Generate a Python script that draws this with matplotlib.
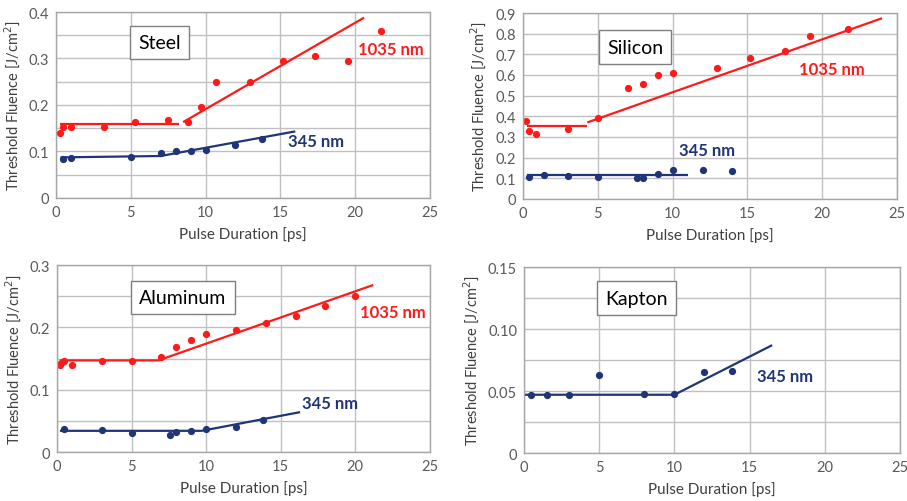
import matplotlib.pyplot as plt
import numpy as np

plt.rcParams['font.family'] = ['Lato', 'DejaVu Sans']

RED = '#ff1a1a'
BLUE = '#1f3578'
GRID = '#c0c0c0'
TICK = '#595959'

# --- measured thresholds: pulse duration [ps], fluence [J/cm^2] ---
steel_ir_t = [0.3, 0.5, 1.0, 3.2, 5.3, 7.5, 8.8, 9.7, 10.7, 13.0, 15.2, 17.3, 19.5, 21.7]
steel_ir_f = [0.140, 0.152, 0.152, 0.152, 0.163, 0.168, 0.163, 0.195, 0.250, 0.250, 0.295, 0.305, 0.295, 0.360]
steel_uv_t = [0.5, 1.0, 5.0, 7.0, 8.0, 9.0, 10.0, 12.0, 13.8]
steel_uv_f = [0.084, 0.086, 0.088, 0.096, 0.100, 0.100, 0.102, 0.113, 0.127]

si_ir_t = [0.2, 0.4, 0.9, 3.0, 5.0, 7.0, 8.0, 9.0, 10.0, 13.0, 15.2, 17.5, 19.2, 21.7]
si_ir_f = [0.375, 0.330, 0.315, 0.340, 0.390, 0.535, 0.555, 0.600, 0.610, 0.635, 0.680, 0.715, 0.790, 0.825]
si_uv_t = [0.4, 1.4, 3.0, 5.0, 7.6, 8.0, 9.0, 10.0, 12.0, 14.0]
si_uv_f = [0.105, 0.115, 0.110, 0.105, 0.100, 0.100, 0.120, 0.140, 0.140, 0.135]

al_ir_t = [0.2, 0.3, 0.5, 1.0, 3.0, 5.0, 7.0, 8.0, 9.0, 10.0, 12.0, 14.0, 16.0, 18.0, 20.0]
al_ir_f = [0.140, 0.143, 0.146, 0.140, 0.146, 0.146, 0.152, 0.168, 0.179, 0.190, 0.195, 0.207, 0.218, 0.235, 0.250]
al_uv_t = [0.5, 3.0, 5.0, 7.6, 8.0, 9.0, 10.0, 12.0, 13.8]
al_uv_f = [0.037, 0.036, 0.030, 0.028, 0.032, 0.033, 0.037, 0.040, 0.051]

kap_uv_t = [0.5, 1.5, 3.0, 5.0, 8.0, 10.0, 12.0, 13.8]
kap_uv_f = [0.047, 0.047, 0.047, 0.063, 0.048, 0.048, 0.065, 0.066]

# --- trend lines (segments) ---
steel_ir_fit = [([0.3, 8.2], [0.158, 0.158]), ([8.5, 20.6], [0.163, 0.388])]
steel_uv_fit = [([0.3, 7.0, 16.0], [0.087, 0.090, 0.143])]
si_ir_fit = [([0.3, 4.3], [0.355, 0.355]), ([4.3, 24.0], [0.370, 0.875])]
si_uv_fit = [([0.3, 11.0], [0.115, 0.115])]
al_ir_fit = [([0.2, 6.8, 21.2], [0.147, 0.147, 0.268])]
al_uv_fit = [([0.2, 9.7, 16.3], [0.034, 0.034, 0.064])]
kap_uv_fit = [([0.0, 10.0, 16.5], [0.047, 0.047, 0.087])]


def panel(ax, ymax, ystep, gstep, fmt, name, box_xy, series, notes):
    ax.set_xlim(0, 25)
    ax.set_ylim(0, ymax)
    ax.set_xticks(np.arange(0, 26, 5))
    ax.set_yticks(np.arange(0, ymax + 1e-9, ystep))
    ax.set_yticks(np.arange(0, ymax + 1e-9, gstep), minor=True)
    ax.set_yticklabels(['0'] + [fmt % v for v in np.arange(ystep, ymax + 1e-9, ystep)])
    ax.grid(True, which='both', color=GRID, lw=1.0)
    ax.set_axisbelow(True)
    ax.tick_params(which='both', length=0, labelsize=10.5, colors=TICK, pad=5)
    for s in ax.spines.values():
        s.set_color('#a6a6a6')
        s.set_linewidth(1.0)
    ax.set_xlabel('Pulse Duration [ps]', fontsize=11, color='#404040', labelpad=5)
    ax.set_ylabel('Threshold Fluence [J/cm$^2$]', fontsize=10.5, color='#404040', labelpad=5)

    for t, f, fit, col in series:
        for xs, ys in fit:
            ax.plot(xs, ys, color=col, lw=1.6, solid_capstyle='butt')
        ax.plot(t, f, 'o', color=col, ms=4.2, mec=col)

    ax.text(box_xy[0], box_xy[1], name, fontsize=14, ha='center', va='center',
            color='black',
            bbox=dict(boxstyle='square,pad=0.42', fc='white', ec='#7f7f7f', lw=1.0))
    for x, y, txt, col in notes:
        ax.text(x, y, txt, fontsize=12, fontweight='bold', color=col,
                ha='left', va='center')


fig = plt.figure(figsize=(9.07, 5.02), dpi=100)
ax1 = fig.add_axes([0.0617, 0.604, 0.4123, 0.370])
ax2 = fig.add_axes([0.5766, 0.602, 0.4124, 0.370])
ax3 = fig.add_axes([0.0628, 0.0976, 0.4112, 0.3724])
ax4 = fig.add_axes([0.5777, 0.0956, 0.4146, 0.3704])

panel(ax1, 0.4, 0.1, 0.05, '%.1f', 'Steel', (6.9, 0.335),
      [(steel_ir_t, steel_ir_f, steel_ir_fit, RED),
       (steel_uv_t, steel_uv_f, steel_uv_fit, BLUE)],
      [(20.2, 0.32, '1035 nm', RED), (15.5, 0.123, '345 nm', BLUE)])

panel(ax2, 0.9, 0.1, 0.1, '%.1f', 'Silicon', (7.5, 0.735),
      [(si_ir_t, si_ir_f, si_ir_fit, RED),
       (si_uv_t, si_uv_f, si_uv_fit, BLUE)],
      [(18.45, 0.63, '1035 nm', RED), (10.4, 0.237, '345 nm', BLUE)])

panel(ax3, 0.3, 0.1, 0.05, '%.1f', 'Aluminum', (8.45, 0.248),
      [(al_ir_t, al_ir_f, al_ir_fit, RED),
       (al_uv_t, al_uv_f, al_uv_fit, BLUE)],
      [(20.3, 0.225, '1035 nm', RED), (16.4, 0.079, '345 nm', BLUE)])

panel(ax4, 0.15, 0.05, 0.025, '%.2f', 'Kapton', (7.5, 0.125),
      [(kap_uv_t, kap_uv_f, kap_uv_fit, BLUE)],
      [(15.5, 0.062, '345 nm', BLUE)])

fig.savefig('out.png', dpi=100)
